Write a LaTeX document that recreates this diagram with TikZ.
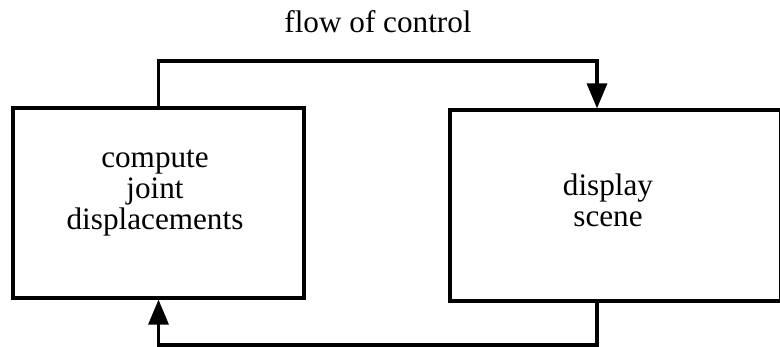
\documentclass[tikz,border=0pt]{standalone}
\usepackage{fontspec}
\setmainfont{Liberation Serif}
\usetikzlibrary{arrows.meta}

\begin{document}
\begin{tikzpicture}[
x=0.5pt, y=-0.5pt,
every node/.style={font=\fontsize{15.6}{15.6}\selectfont},
stage/.style={rectangle, draw=black, line width=1.6pt, inner sep=0pt},
caption/.style={align=center, inner sep=0pt},
flow/.style={line width=1.6pt, -{Triangle[length=12.5pt, width=10pt]}},
]
\useasboundingbox (0,0) rectangle (780,347);
\node (title) [anchor=base] at (378,33) {flow of control};
\node[stage] (compute) [minimum width=145.5pt, minimum height=95pt] at (158.5,203) {};
\node[stage] (display) [minimum width=165.5pt, minimum height=95.5pt] at (615.5,205.5) {};
\node[caption] (computetext) at (155,193) {compute\\joint\\displacements};
\node[caption] (displaytext) at (608,200.5) {display\\scene};
\coordinate (topturn) at (597,61);
\coordinate (bottomturn) at (597,345);
\draw[flow] (compute.north) |- (topturn) -- (topturn |- display.north);
\draw[flow] (bottomturn |- display.south) -- (bottomturn) -| (compute.south);
\end{tikzpicture}
\end{document}
